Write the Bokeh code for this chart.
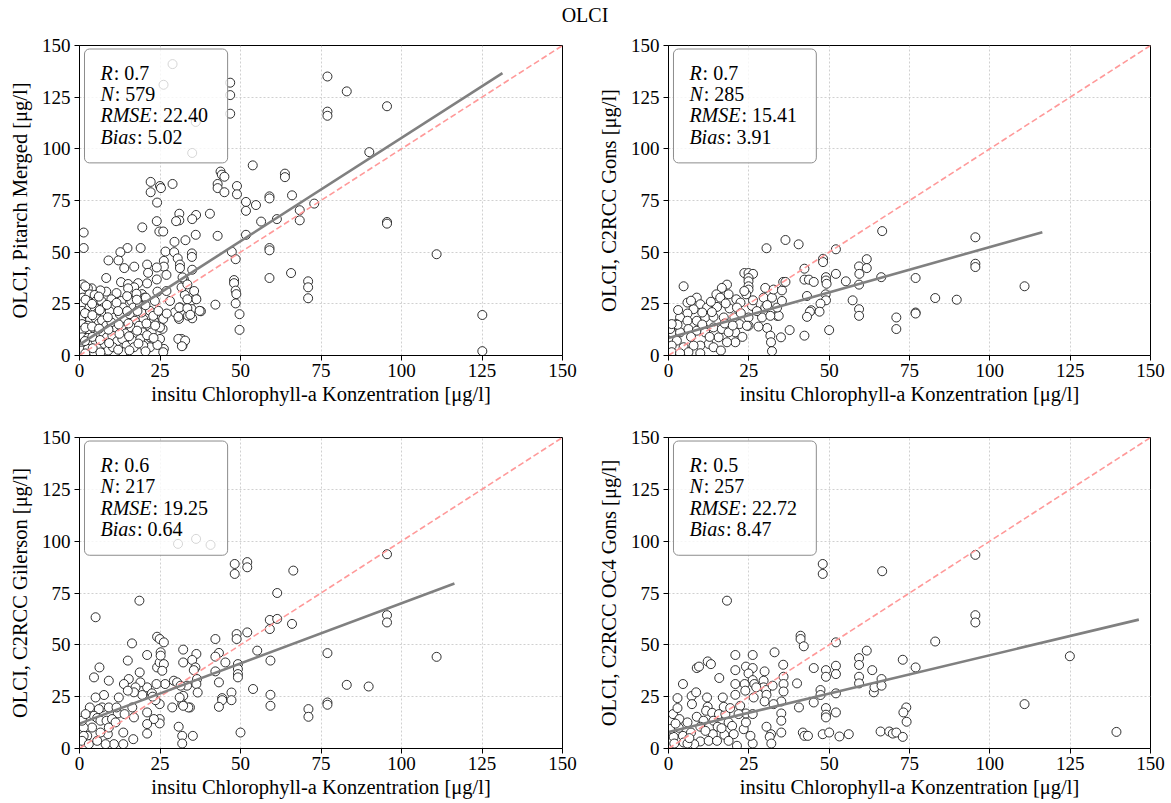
from bokeh.plotting import figure
from bokeh.models import Range1d, FixedTicker, BoxAnnotation, Label
from bokeh.layouts import column, row
from bokeh.embed import file_html
from bokeh.resources import INLINE
from bokeh.core.properties import value

title_text = "OLCI"
x_label = "insitu Chlorophyll-a Konzentration [μg/l]"
y_labels = ["OLCI, Pitarch Merged [μg/l]", "OLCI, C2RCC Gons [μg/l]",
            "OLCI, C2RCC Gilerson [μg/l]", "OLCI, C2RCC OC4 Gons [μg/l]"]
tick_values = [0, 25, 50, 75, 100, 125, 150]

# stats boxes
stat_R = ["0.7", "0.7", "0.6", "0.5"]
stat_N = ["579", "285", "217", "257"]
stat_RMSE = ["22.40", "15.41", "19.25", "22.72"]
stat_Bias = ["5.02", "3.91", "0.64", "8.47"]

# regression lines (slope, intercept)
reg_slope = [1.0, 0.44, 0.58, 0.37]
reg_intercept = [5.3, 8.5, 12.0, 8.0]

# (insitu, satellite) pairs, µg/l
pitarch_points = [
    (28.9, 141), (26.1, 131), (36.1, 113), (35, 98), (46.8, 132), (46.8, 126), (46.8, 117),
    (43.8, 89), (44.2, 87.5), (45, 86.5), (53.8, 92), (42.9, 83), (42.9, 81), (45, 79),
    (48.9, 82), (48.9, 78), (22.1, 84), (22.1, 79), (25, 82), (25.3, 81), (28.9, 83),
    (24.1, 74), (19.5, 62), (24, 65), (24.8, 60), (26, 60), (31, 68.6), (31, 65.4), (30, 65),
    (36.2, 68), (35, 66), (40.5, 68.6), (42.9, 57.9), (36.1, 58.4), (32.9, 55.8), (29.5, 55),
    (26.7, 50.3), (29.4, 50), (1.3, 59.5), (1.3, 52), (59, 77), (59, 76), (59, 52), (59, 50.9),
    (59, 37.5), (61.3, 66), (63.8, 88), (63.8, 86.3), (66, 77.5), (65.7, 39.9), (56.4, 64.8),
    (51.7, 74.3), (51.7, 70), (51.7, 58.4), (54.8, 72.8), (77, 135), (83, 127.8), (77, 118),
    (77, 116), (95.5, 120.6), (90, 98.4), (68.4, 70.3), (68.4, 65.4), (72.9, 73.5), (95.5, 64.6),
    (95.5, 63.8), (110.9, 49), (71, 35.9), (71, 33), (71, 27.7), (125.1, 19.6), (125.1, 2.1),
    (47.3, 50.2), (48.5, 46.6), (48, 36.5), (48, 35), (48.5, 31.4), (48.7, 29.7), (48.5, 25.2),
    (49.7, 20), (49.7, 12.4), (42.2, 24.6), (36.1, 27.6), (37.7, 21.4), (34.2, 25), (34.8, 22.5),
    (35, 18), (33.7, 19.3), (32.7, 29.3), (31.7, 33), (32.4, 37), (31.2, 23.3), (29.6, 20.9),
    (30.9, 17.7), (31.7, 8), (32, 4.8), (30.7, 8), (26, 17.7), (25.8, 12.9), (25, 8), (26.2, 3.2),
    (26, 1.6), (21, 44), (21.3, 40), (26.2, 45.8), (26.2, 43), (27, 39), (30.5, 47), (31.2, 44),
    (31.2, 42.3), (32, 37.8), (34.9, 49.4), (34.9, 47.7), (35, 41.5), (24, 42.6), (24, 36.8),
    (19, 52), (14.9, 52), (12.7, 50), (12.1, 46), (9, 46), (13.9, 42.3), (17, 43), (8.3, 37.5),
    (12.9, 35.5), (15.1, 34.6), (18.2, 35), (17, 33), (19.4, 29.7), (20.2, 28), (21, 34.9),
    (27, 31.2), (24.2, 30.9), (20.6, 28), (17.7, 29.9), (15.1, 32.5), (11.5, 30.2), (8.3, 30.9),
    (6.5, 31.5), (3.8, 32.5), (1, 34.4), (33.5, 34.4), (35.6, 31.2), (36.3, 27.2), (33.5, 27.2),
    (31, 23.2), (33.5, 22.9), (37.3, 21.6), (34.4, 19.7), (30.7, 18.7), (23.1, 16.8), (19.8, 17.6),
    (21.9, 13.9), (25, 13.6), (21.9, 8.8), (21.9, 4), (24.2, 5.1), (32.8, 7.2), (31.8, 4.5),
    (0.8, 31), (1, 28), (0.8, 24.8), (0.8, 21.6), (0.8, 18.4), (0.8, 15.2), (0.8, 12), (0.8, 8.8),
    (0.8, 5.6), (0.8, 2.4), (2.6, 32.5), (3.1, 29.6), (2.6, 26.4), (3.1, 23.2), (2.3, 20),
    (3.3, 17.6), (2.6, 14.4), (3.3, 11.7), (2.6, 8.5), (3.6, 5.9), (2.6, 3.2), (4.7, 29.3),
    (5.2, 26.4), (4.7, 23.2), (5.7, 20.8), (5, 18), (6, 15.5), (4.7, 12.8), (5.7, 10.4), (5, 7.2),
    (6.2, 4.3), (4.4, 1.6), (6.8, 26.4), (7.3, 22.9), (7.8, 20), (7, 17), (8.3, 14.4), (7.3, 11.2),
    (8.5, 8.8), (7.8, 5.6), (8.9, 2.4), (9.9, 27.2), (10.4, 24), (9.4, 21.3), (10.9, 18.4),
    (9.9, 16), (11.5, 12.8), (10.2, 9.6), (11.7, 6.9), (10.4, 4), (13, 26.4), (13.5, 23.2),
    (12.5, 20), (14.1, 17.1), (13, 13.9), (14.4, 10.7), (13.3, 8), (14.6, 4.8), (13.5, 1.6),
    (16.1, 26.4), (16.7, 23.2), (15.6, 20), (17.2, 16.8), (16.1, 13.6), (17.2, 10.4), (16.5, 7.2),
    (16.9, 4), (18.8, 24), (19.3, 20.8), (18.5, 14.4), (19.6, 11.2), (18.9, 8), (19.8, 4.8),
    (21.9, 21.6), (22.9, 19.2), (22.4, 11.2), (24.5, 21.6), (28.1, 26.4), (27.1, 20.3), (23.4, 26.4),
    (1.8, 33.5), (1.9, 27), (1.7, 20.5), (1.8, 13.5), (1.7, 7), (1.8, 1), (3.9, 25), (4, 19.5),
    (3.9, 14), (4, 9), (4.1, 3.5), (6, 28.5), (6.3, 22), (6.1, 13), (6.4, 7.5), (6.5, 1.5),
    (8.5, 24.5), (8.8, 18.5), (9, 12.5), (9.2, 6), (11.5, 25.5), (12, 21.5), (12.2, 15),
    (12.4, 10.5), (12, 2.8), (14.8, 28.7), (14.8, 21.5), (15.2, 15.5), (15.4, 9.3), (15.5, 2.5),
    (17.8, 27), (18, 21.5), (17.9, 12), (18.3, 5.8), (20.5, 24.3), (20.8, 15.5), (21, 9.8),
    (20.5, 2), (23.5, 14.5), (23, 8.5),
]

gons_points = [
    (36.4, 55.9), (40.5, 53.8), (30.5, 51.9), (52.1, 51.4), (66.5, 60.2), (42.3, 42), (48.1, 46.8),
    (48.1, 45.2), (42.3, 36.7), (43.7, 36.7), (45.2, 35.6), (49, 37.9), (49, 36.3), (49.2, 34.7),
    (52.1, 39.5), (55.2, 35.9), (59.3, 43.1), (59.4, 39.5), (61.7, 46.6), (61.7, 42.3), (59.3, 34.3),
    (66.2, 37.9), (57.3, 26.7), (59.3, 22.4), (59.3, 19.2), (48.9, 29.6), (49, 26.7), (47.3, 25.1),
    (44.4, 21.9), (44, 21.2), (47, 21.2), (43.1, 18.7), (42.3, 9.6), (50, 12.3), (43.1, 28.8),
    (70.9, 18.4), (70.9, 12.8), (95.5, 57.2), (95.5, 44.4), (95.5, 42.8), (76.9, 37.5), (83, 27.8),
    (89.7, 27), (110.8, 33.5), (76.9, 20.8), (76.9, 20.3), (23.6, 39.9), (24.9, 39.9), (26.3, 39.5),
    (24.9, 37.5), (24.9, 35.9), (24.9, 33.5), (24.9, 31.9), (24.2, 29.6), (23.6, 31.2), (26, 24),
    (24.9, 18.4), (24.9, 14.4), (26.3, 26.7), (30.1, 32.7), (29.6, 28), (32.2, 28), (32.7, 31.9),
    (35.3, 31.5), (35.7, 35.6), (36.4, 35.6), (29.1, 18.4), (30.7, 13.3), (31.7, 9.6), (31.9, 6.4),
    (32.2, 2.1), (35, 8.8), (37.7, 12.3), (33.8, 19.2), (34.3, 19.2), (31.7, 19.2), (30.1, 23.2),
    (33.8, 23.2), (35.3, 26.4), (30.7, 24.4), (4.7, 33.5), (8.8, 28), (5.9, 25.6), (18.2, 34.3),
    (16.6, 32.7), (18.7, 29.6), (14.9, 29.6), (16.1, 28), (21.1, 27.2), (22.4, 25.6), (9.9, 24.8),
    (7.8, 22.4), (12, 23.2), (15.1, 23.5), (19, 22.8), (21.3, 23.2), (5.9, 20.3), (3.6, 18.4),
    (2.4, 15.2), (5.9, 16.8), (8.8, 16.8), (11.4, 18.4), (14, 18.7), (17.2, 18.4), (20.5, 18.4),
    (22.1, 15.2), (24.4, 14.4), (20.8, 11.2), (20.8, 6.4), (18.2, 6.4), (15.6, 8.8), (12.5, 5.6),
    (9.9, 4.8), (7.8, 4.8), (4.7, 4), (2.6, 7.2), (1, 11.2), (1, 4.8), (1, 1.6), (3.6, 11.2),
    (6.2, 12.8), (8.8, 12), (11.4, 12.8), (14, 13.6), (16.6, 12.8), (18.7, 11.2), (14, 4),
    (16.3, 2.4), (9.9, 1.1), (6.2, 1.6), (3.6, 1.1), (11.4, 11.2), (2.8, 14.9), (0.5, 12.8),
    (1, 15.2), (13.5, 21), (10.5, 15), (7, 9), (12.8, 9), (17.5, 15.5), (22.5, 20.5), (27.5, 21.5),
    (3, 22), (7, 26.5), (10.5, 20.8), (13.2, 26), (17.8, 25.2), (20, 14.5), (23, 9), (28, 14),
]

gilerson_points = [
    (30.6, 98.7), (36.2, 101.1), (40.7, 98.2), (48.2, 89), (48.2, 84.2), (52.1, 89.9), (52.1, 87.4),
    (66.4, 85.8), (61.4, 75), (18.6, 71.3), (5, 63.3), (66, 60.1), (59.1, 62), (59.1, 57.6),
    (61.4, 62.5), (52.1, 56), (48.8, 55.2), (48.8, 52.8), (42.2, 52.8), (24.1, 53.9), (24.9, 52.8),
    (26.2, 51.2), (16.3, 50.7), (21, 45.1), (32.2, 47.7), (36.3, 45.6), (35, 42.7), (32.2, 41.5),
    (36, 39.1), (35.5, 37.8), (24.1, 39.1), (24.9, 41.5), (25.2, 46.4), (25.2, 44.8), (26.2, 40.7),
    (25.7, 37.5), (15, 42.4), (6.2, 39.1), (18.7, 36.7), (43.3, 46.1), (42.2, 44.3), (42.2, 37.2),
    (45.3, 41.5), (55.2, 47.2), (49.2, 40.7), (49.2, 38.3), (49.2, 35.9), (49.2, 34.3), (59.3, 42.4),
    (53.9, 28.7), (59.3, 25.9), (59.3, 20.6), (50, 7.7), (47.2, 27), (47.2, 23.3), (44.3, 24.3),
    (44.3, 23.3), (43.3, 20.1), (43.3, 31.9), (36.5, 33.5), (36.3, 31.1), (36.7, 27), (33.4, 30.3),
    (32.2, 25.4), (31.9, 21.4), (34.3, 19.8), (33.8, 19.8), (32.2, 20.6), (29.3, 32.7), (30.3, 31.9),
    (31.4, 30.3), (28.8, 19.8), (31.1, 24.6), (30.8, 10.5), (31.9, 6.1), (31.9, 2.4), (35.2, 6.1),
    (24.9, 21.4), (24.9, 14.2), (24.9, 12.1), (23.6, 23.3), (23.1, 14.2), (21, 11.8), (21, 7.2),
    (21, 17.4), (21, 29.5), (22.5, 26.6), (22.7, 25), (26.6, 31.1), (23.9, 31.1), (18.9, 31.9),
    (19.5, 25.8), (17.4, 29.5), (16.9, 27.1), (16.4, 19.8), (16.9, 15), (16.7, 4.5), (15.3, 33.5),
    (13.8, 31.1), (12.2, 24.6), (15, 27.9), (11.9, 16.9), (14, 16.6), (13.6, 7.7), (13.6, 2.1),
    (10.7, 2.1), (8.8, 6.9), (8.1, 2.1), (7, 19.8), (7.6, 25.8), (6, 19), (4.5, 15.8), (3.2, 19.8),
    (5.5, 14.7), (6.5, 13.4), (8.4, 13.4), (10.1, 14.2), (9.1, 19.8), (11.5, 19.8), (3.9, 10.1),
    (2.4, 6.1), (1.3, 10.1), (1.3, 6.1), (0.8, 3.7), (2.9, 2.1), (5.5, 3.7), (6.5, 7.7), (9.1, 10.1),
    (11.2, 12.6), (0.8, 13.4), (1.9, 16.6), (5, 24.6), (4.5, 34.3), (9.1, 32.7), (95.5, 93.7),
    (95.5, 64.3), (95.5, 60.8), (77, 46), (110.9, 44.2), (83, 30.7), (89.8, 29.9), (71.1, 19),
    (71.1, 15.3), (77, 22.2), (77, 21.1),
]

oc4_points = [
    (48, 89), (48, 84.2), (66.5, 85.5), (18.2, 71.3), (41.1, 54.4), (41.1, 52.8), (42.1, 49.3),
    (33, 46.4), (52.1, 51.2), (20.8, 45.1), (26.2, 45.1), (35.7, 40.4), (45.2, 38.8), (12.2, 42),
    (13.2, 40.7), (8.8, 38.8), (9.5, 39.5), (20.8, 37.8), (24.1, 39.5), (26.2, 38.8), (29.9, 37.2),
    (24.9, 36.2), (15.8, 34), (4.5, 31.1), (7.2, 25.3), (8.6, 27.1), (12, 24.6), (16.9, 24.6),
    (20.8, 31.1), (20.8, 25.9), (23.7, 31.1), (23.9, 27.9), (26.2, 33), (26.7, 31.1), (29.6, 32.7),
    (29.6, 29.5), (30.4, 28.2), (32.4, 30.3), (30.5, 25.9), (29.9, 22.7), (35.8, 34.6), (35.8, 31.1),
    (35.8, 27.5), (35.1, 22.7), (32.7, 21.4), (35.1, 16.9), (35.1, 13.4), (35.1, 7.7), (31.9, 6.9),
    (31.5, 5.6), (32, 2.4), (30.5, 10.5), (40, 31.4), (40.6, 19.8), (41.8, 7.7), (42.3, 6.1),
    (43.4, 6.1), (45.2, 22.2), (47.3, 28.2), (47.3, 25.8), (48, 6.9), (49, 37.8), (49, 34.6),
    (49, 19.5), (49, 16.3), (49, 15), (50, 7.7), (52.1, 39.9), (52.1, 35.9), (52.1, 26.6),
    (52.1, 17.4), (53.2, 5.8), (56.1, 6.9), (59.3, 43.6), (59.3, 40.3), (59.3, 34.6), (59.3, 31.4),
    (61.7, 47.2), (63.4, 37.8), (63.9, 27.1), (64.1, 29.5), (66.3, 33.5), (66.3, 30.3), (66, 8.2),
    (68.7, 8.2), (72.9, 42.8), (95.5, 93.4), (95.5, 64.3), (95.5, 60.8), (83, 51.6), (76.9, 39.1),
    (124.9, 44.5), (110.8, 21.4), (139.4, 8), (74, 19.8), (73.1, 17.4), (74.1, 12.9), (69.8, 7.2),
    (70.9, 7.7), (72.9, 5.6), (2.8, 24.3), (1.4, 16.6), (2.8, 19.5), (3.4, 14.2), (4.5, 6.1),
    (1.6, 5.6), (7.3, 21.4), (5.9, 12.6), (8.8, 15.3), (10.9, 13.4), (9.9, 10.5), (9.9, 3.4),
    (7, 7.7), (4.7, 2.9), (12.2, 20.1), (11.7, 18.2), (13.6, 17.2), (14, 13.4), (15.3, 10.5),
    (13.8, 6.9), (12.5, 3.7), (15.7, 16.6), (17.7, 16.6), (17.2, 20.1), (19.2, 19.5), (18.7, 12.6),
    (19.8, 10.9), (17.4, 6.6), (20.3, 6.9), (21.3, 1.3), (23.4, 9.3), (24.1, 12.6), (26.2, 2.4),
    (25.5, 6.1), (24.1, 16.9), (26.2, 16.6), (22.3, 20.6), (27.3, 29.5), (26.5, 24.6), (21.8, 16.6),
    (8, 2.1), (5.9, 2.4), (1.8, 2.4), (15.1, 3.7), (18.7, 3.7), (0.8, 9.5), (3.2, 10), (6.5, 5),
    (11.5, 8.5), (16.5, 9.8), (2.2, 12),
]

FONT = "Liberation Serif"
TICK_SIZE = 19
LABEL_SIZE = 20.5
STAT_SIZE = 20
ITALIC_EM = {"R": 0.611, "N": 0.667, "M": 0.833, "S": 0.5, "E": 0.611,
             "B": 0.611, "i": 0.278, "a": 0.5, "s": 0.389}


def italic_width(txt, size):
    return sum(ITALIC_EM.get(c, 0.5) for c in txt) * size + 1


def make_panel(points, ylab, slope, icpt, stats, width, height, mb):
    xs = [p[0] for p in points]
    ys = [p[1] for p in points]
    p = figure(width=width, height=height, x_range=Range1d(0, 150), y_range=Range1d(0, 150),
               output_backend="svg", toolbar_location=None,
               min_border_left=mb[0], min_border_right=mb[1],
               min_border_top=mb[2], min_border_bottom=mb[3])
    p.background_fill_color = "white"
    p.border_fill_color = "white"
    p.outline_line_color = "black"
    p.outline_line_width = 1
    p.outline_line_alpha = 1
    for ax in (p.xaxis[0], p.yaxis[0]):
        ax.ticker = FixedTicker(ticks=tick_values)
        ax.major_label_text_font = FONT
        ax.major_label_text_font_size = f"{TICK_SIZE}px"
        ax.major_label_text_color = "black"
        ax.axis_label_text_font = FONT
        ax.axis_label_text_font_size = f"{LABEL_SIZE}px"
        ax.axis_label_text_font_style = "normal"
        ax.axis_label_text_color = "black"
        ax.major_tick_out = 5
        ax.major_tick_in = 0
        ax.minor_tick_out = 0
        ax.minor_tick_in = 0
        ax.axis_line_color = "black"
        ax.major_tick_line_color = "black"
    p.xaxis.axis_label = x_label
    p.yaxis.axis_label = ylab
    p.xaxis.major_label_standoff = 3
    p.xaxis.axis_label_standoff = 3
    p.yaxis.major_label_standoff = 4
    p.yaxis.axis_label_standoff = 8
    p.grid.grid_line_color = "#c4c4c4"
    p.grid.grid_line_dash = "2 2"
    p.grid.grid_line_width = 0.8

    p.scatter(x=xs, y=ys, marker="circle", size=9, fill_color="white",
              line_color="#1a1a1a", line_width=0.9)
    p.line(x=[0, 150], y=[0, 150], line_color="#ff9999", line_dash="6 3", line_width=1.6)
    xe = max(xs) * 1.05
    p.line(x=[0, xe], y=[icpt, icpt + slope * xe], line_color="#808080", line_width=2.6)

    p.add_layout(BoxAnnotation(left=1.55, right=46, top=148.3, bottom=93.2,
                               fill_color="white", fill_alpha=0.8,
                               line_color="#8c8c8c", line_alpha=1, line_width=1,
                               border_radius=5))
    offs = [27.5, 48.7, 70.0, 91.3]
    for i, (key, val) in enumerate(stats):
        yv = 150 - offs[i] / 2.067
        p.add_layout(Label(x=6.5, y=yv, text=key, text_font=FONT,
                           text_font_size=f"{STAT_SIZE}px", text_font_style="italic",
                           text_baseline="middle", text_color="black"))
        p.add_layout(Label(x=6.5, y=yv, x_offset=italic_width(key, STAT_SIZE), text=": " + val,
                           text_font=FONT, text_font_size=f"{STAT_SIZE}px",
                           text_baseline="middle", text_color="black"))
    return p


datasets = [pitarch_points, gons_points, gilerson_points, oc4_points]
panels = []
for i in range(4):
    stats = [("R", stat_R[i]), ("N", stat_N[i]), ("RMSE", stat_RMSE[i]), ("Bias", stat_Bias[i])]
    left = (i % 2 == 0)
    top = (i < 2)
    w = 590 if left else 579
    mbl, mbr = (79, 28) if left else (78, 19)
    if top:
        h, mbt, mbb = 397, 17, 70
    else:
        h, mbt, mbb = 377, 12, 54
    panels.append(make_panel(datasets[i], y_labels[i], reg_slope[i], reg_intercept[i], stats,
                             w, h, (mbl, mbr, mbt, mbb)))

tfig = figure(width=1169, height=28, x_range=Range1d(0, 1), y_range=Range1d(0, 1),
              output_backend="svg", toolbar_location=None, min_border=0,
              x_axis_location=None, y_axis_location=None)
tfig.outline_line_color = None
tfig.grid.visible = False
tfig.text(x=[0.5], y=[0.5], text=[title_text], text_align="center", text_baseline="middle",
          text_font=value(FONT), text_font_size="20px", text_color="black")

layout = column(tfig, row(panels[0], panels[1]), row(panels[2], panels[3]))
open("out.html", "w").write(file_html(layout, INLINE))
